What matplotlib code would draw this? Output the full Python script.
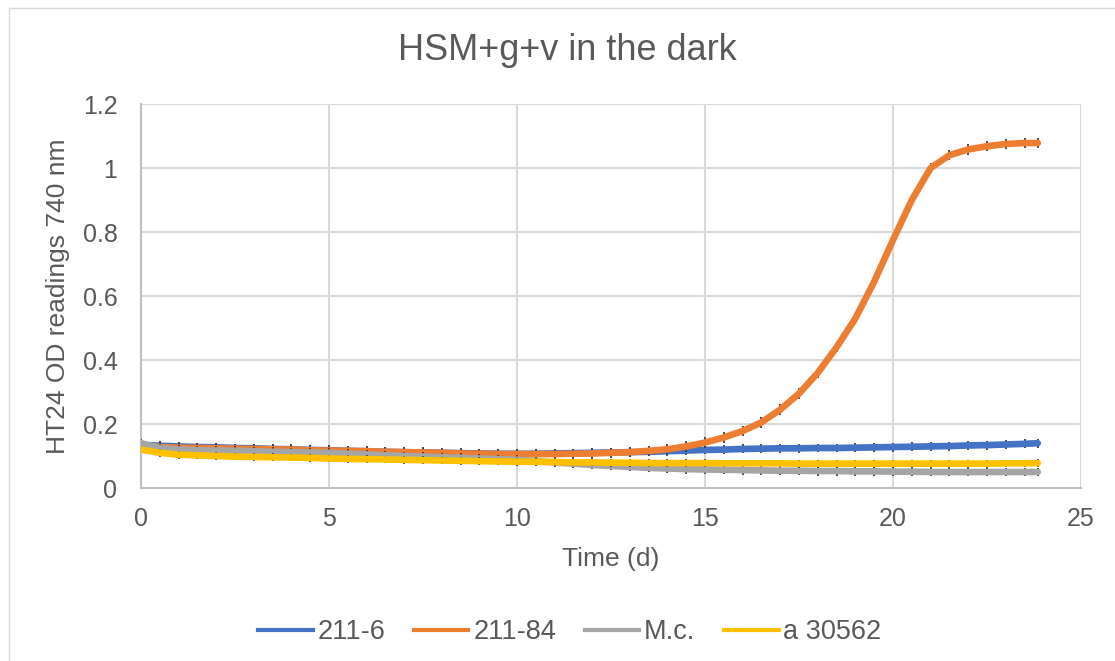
import matplotlib.pyplot as plt
from matplotlib.lines import Line2D

# time points (d)
time = [0, 0.5, 1, 1.5, 2, 2.5, 3, 3.5, 4, 4.5, 5, 5.5, 6, 6.5, 7, 7.5,
        8, 8.5, 9, 9.5, 10, 10.5, 11, 11.5, 12, 12.5, 13, 13.5, 14, 14.5,
        15, 15.5, 16, 16.5, 17, 17.5, 18, 18.5, 19, 19.5, 20, 20.5, 21,
        21.5, 22, 22.5, 23, 23.5, 23.85]

s211_6 = [0.135, 0.132, 0.130, 0.128, 0.127, 0.125, 0.124, 0.122, 0.121, 0.119,
          0.118, 0.116, 0.115, 0.113, 0.112, 0.111, 0.110, 0.109, 0.108, 0.107,
          0.107, 0.107, 0.108, 0.109, 0.110, 0.111, 0.112, 0.113, 0.115, 0.117,
          0.119, 0.120, 0.122, 0.123, 0.124, 0.124, 0.125, 0.125, 0.126, 0.127,
          0.128, 0.129, 0.130, 0.131, 0.133, 0.134, 0.136, 0.138, 0.140]

s211_84 = [0.130, 0.128, 0.126, 0.125, 0.124, 0.123, 0.122, 0.121, 0.120, 0.118,
           0.117, 0.116, 0.115, 0.113, 0.112, 0.111, 0.110, 0.108, 0.107, 0.106,
           0.106, 0.106, 0.106, 0.107, 0.108, 0.110, 0.112, 0.116, 0.121, 0.130,
           0.142, 0.158, 0.178, 0.205, 0.245, 0.295, 0.360, 0.440, 0.530, 0.645,
           0.775, 0.900, 1.000, 1.040, 1.058, 1.068, 1.075, 1.078, 1.078]

s_mc = [0.140, 0.125, 0.120, 0.118, 0.117, 0.116, 0.115, 0.113, 0.112, 0.111,
        0.110, 0.107, 0.105, 0.102, 0.100, 0.098, 0.096, 0.094, 0.092, 0.090,
        0.088, 0.084, 0.080, 0.076, 0.072, 0.069, 0.066, 0.063, 0.061, 0.059,
        0.058, 0.057, 0.056, 0.055, 0.054, 0.054, 0.053, 0.053, 0.052, 0.052,
        0.051, 0.051, 0.050, 0.050, 0.050, 0.050, 0.050, 0.050, 0.050]

s_a30562 = [0.120, 0.110, 0.104, 0.102, 0.100, 0.098, 0.097, 0.096, 0.095, 0.094,
            0.092, 0.091, 0.090, 0.089, 0.088, 0.087, 0.086, 0.085, 0.084, 0.083,
            0.082, 0.082, 0.081, 0.080, 0.080, 0.079, 0.079, 0.078, 0.078, 0.078,
            0.078, 0.077, 0.077, 0.077, 0.077, 0.076, 0.076, 0.076, 0.076, 0.076,
            0.076, 0.076, 0.076, 0.076, 0.076, 0.076, 0.077, 0.077, 0.078]

labels = ["211-6", "211-84", "M.c.", "a 30562"]
errors = [0.014, 0.016, 0.014, 0.012]

colors = ["#4472C4", "#ED7D31", "#A5A5A5", "#FFC000"]
text_c = "#595959"
plt.rcParams['font.family'] = ['Liberation Sans', 'DejaVu Sans']

fig = plt.figure(figsize=(11.15, 6.61), dpi=100)
ax = fig.add_axes([141 / 1115, 1 - 488 / 661, 940 / 1115, 384 / 661])

# chart area border (only top and left visible)
fig.add_artist(Line2D([9 / 1115, 1], [1 - 8 / 661, 1 - 8 / 661],
                      transform=fig.transFigure, color="#D9D9D9", lw=1))
fig.add_artist(Line2D([9 / 1115, 9 / 1115], [0, 1 - 8 / 661],
                      transform=fig.transFigure, color="#D9D9D9", lw=1))

series = [s211_6, s211_84, s_mc, s_a30562]
for i, (data, lab, col, err) in enumerate(zip(series, labels, colors, errors)):
    ax.errorbar(time, data, yerr=err, fmt="none", ecolor="#3F3F3F",
                elinewidth=1.3, capsize=0, zorder=2 + 2 * i)
    ax.plot(time, data, color=col, lw=4.8, label=lab,
            solid_capstyle="round", zorder=3 + 2 * i)

ax.set_xlim(0, 25)
ax.set_ylim(0, 1.2)
ax.set_xticks([0, 5, 10, 15, 20, 25])
ax.set_yticks([0, 0.2, 0.4, 0.6, 0.8, 1.0, 1.2])
ax.set_yticklabels(["0", "0.2", "0.4", "0.6", "0.8", "1", "1.2"])
ax.grid(True, color="#D9D9D9", lw=1.5)
ax.set_axisbelow(True)
for side in ["top", "right"]:
    ax.spines[side].set_visible(False)
for side in ["left", "bottom"]:
    ax.spines[side].set_color("#BFBFBF")
    ax.spines[side].set_linewidth(1.5)
ax.tick_params(length=0, labelsize=18, labelcolor=text_c)
ax.tick_params(axis="y", pad=17)
ax.tick_params(axis="x", pad=14)

ax.set_xlabel("Time (d)", fontsize=19, color=text_c, labelpad=11)
ax.set_ylabel("HT24 OD readings 740 nm", fontsize=19, color=text_c, labelpad=9)
fig.text(0.509, 1 - 51 / 661, "HSM+g+v in the dark", fontsize=26,
         color=text_c, ha="center", va="center")

leg_handles = [Line2D([], [], color=c, lw=3) for c in colors]
fig.legend(leg_handles, labels, loc="center", bbox_to_anchor=(570 / 1115, 1 - 632 / 661),
           ncol=4, frameon=False, fontsize=19.5, labelcolor=text_c,
           handlelength=2.0, handletextpad=0.18, columnspacing=1.07)

fig.savefig("out.png", dpi=100)
